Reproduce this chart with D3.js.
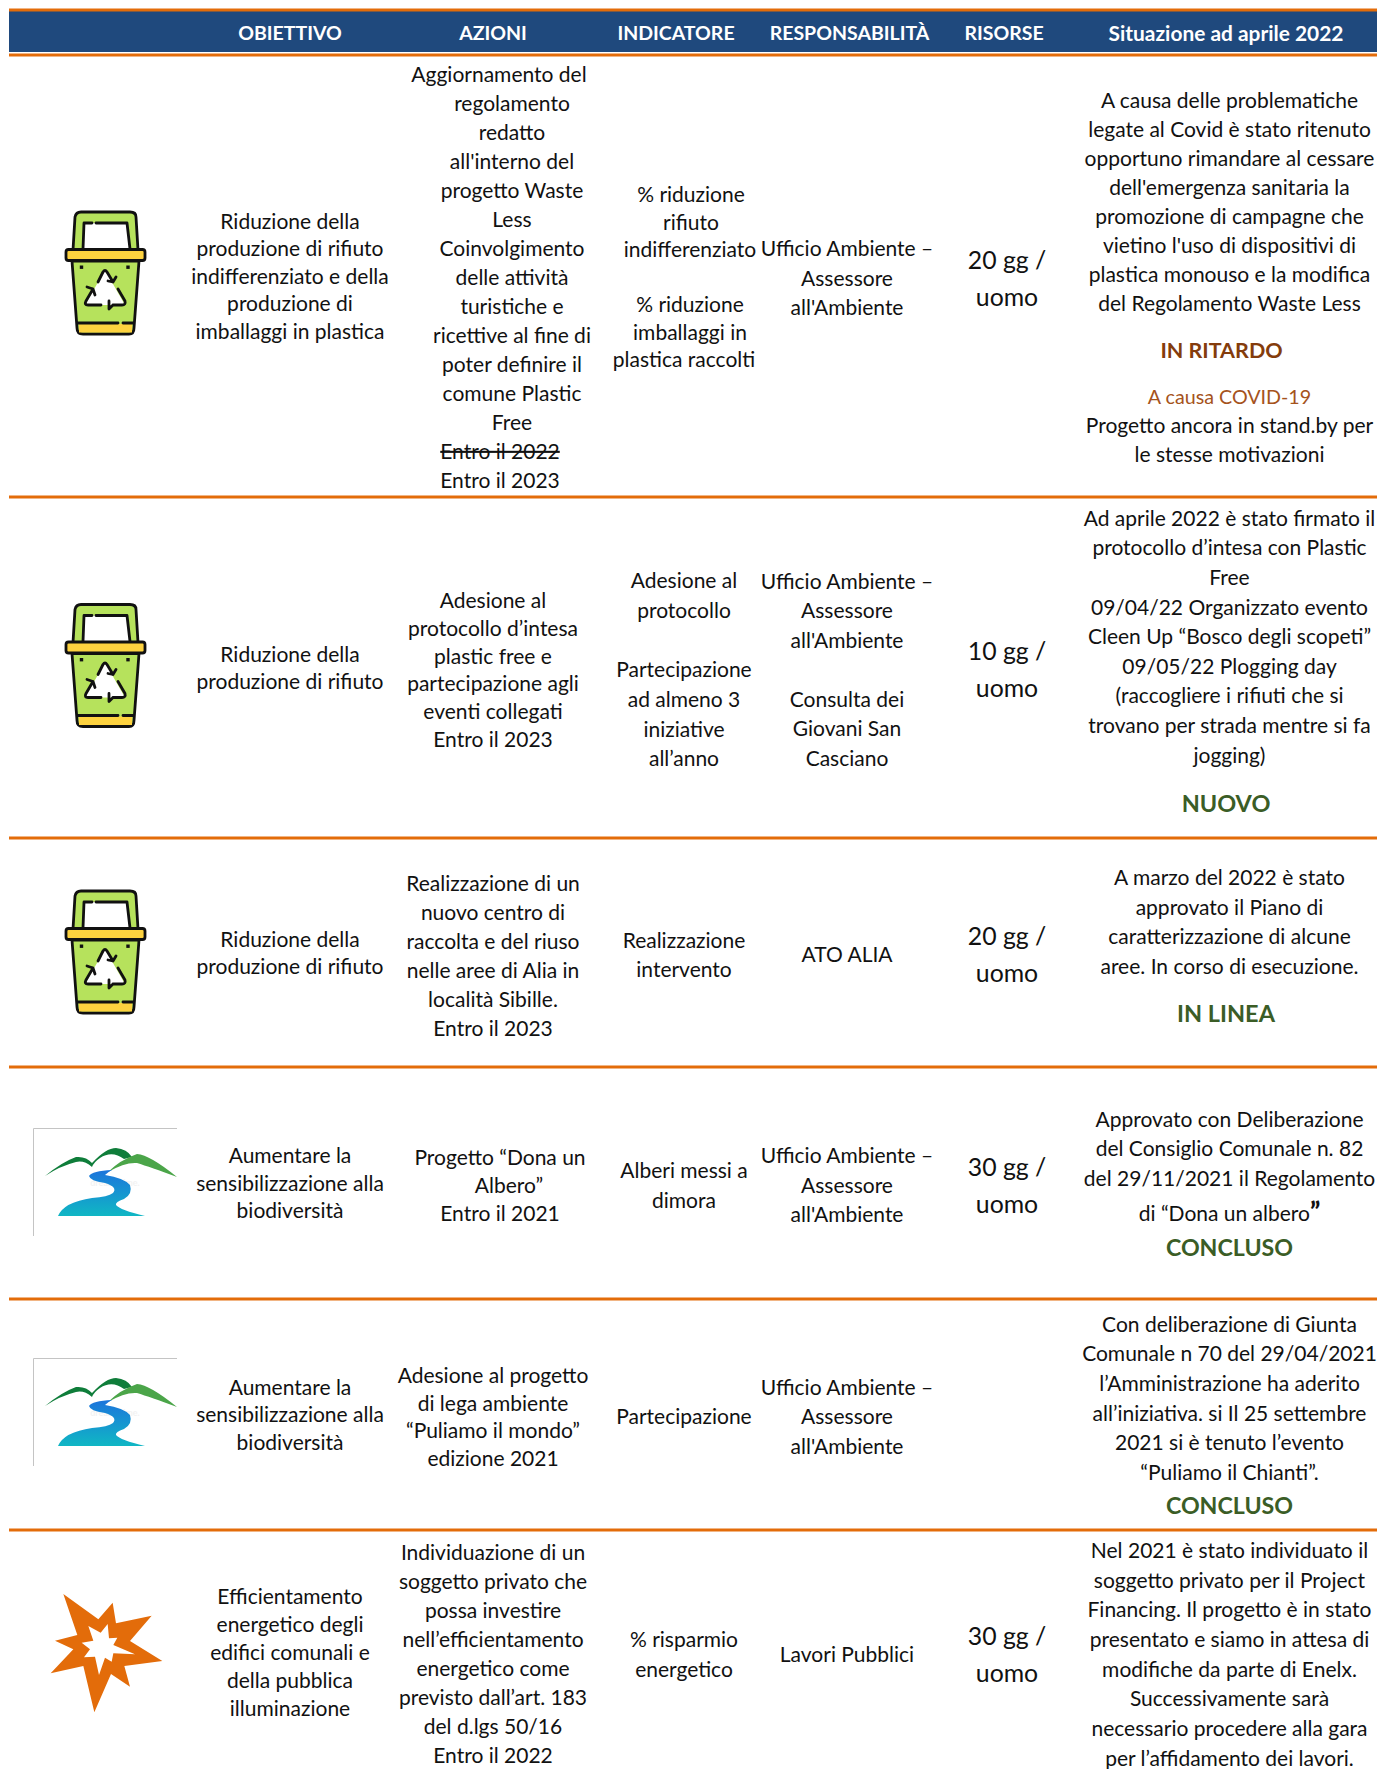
<!DOCTYPE html>
<html>
<head>
<meta charset="utf-8">
<script src="https://cdn.jsdelivr.net/npm/d3@7"></script>
<style>
  body { margin: 0; background: #fff; }
  svg { display: block; }
  text { font-family: Lato, "Open Sans", sans-serif; }
</style>
</head>
<body>
<svg></svg>
<script>
const WIDTH = 1385;
const HEIGHT = 1769;

const COLONNE = ["obiettivo", "azioni", "indicatore", "responsabilita", "risorse", "situazione"];
const INTESTAZIONI = ["OBIETTIVO", "AZIONI", "INDICATORE", "RESPONSABILITÀ", "RISORSE", "Situazione ad aprile 2022"];

const ICONE = ["bin", "bin", "bin", "logo", "logo", "star"];

const OBIETTIVI = [
    ["Riduzione della", "produzione di rifiuto", "indifferenziato e della", "produzione di", "imballaggi in plastica"],
    ["Riduzione della", "produzione di rifiuto"],
    ["Riduzione della", "produzione di rifiuto"],
    ["Aumentare la", "sensibilizzazione alla", "biodiversità"],
    ["Aumentare la", "sensibilizzazione alla", "biodiversità"],
    ["Efficientamento", "energetico degli", "edifici comunali e", "della pubblica", "illuminazione"]
];

const AZIONI = [
    ["Aggiornamento del", "regolamento", "redatto", "all'interno del", "progetto Waste", "Less", "Coinvolgimento", "delle attività", "turistiche e", "ricettive al fine di", "poter definire il", "comune Plastic", "Free", "Entro il 2022", "Entro il 2023"],
    ["Adesione al", "protocollo d’intesa", "plastic free e", "partecipazione agli", "eventi collegati", "Entro il 2023"],
    ["Realizzazione di un", "nuovo centro di", "raccolta e del riuso", "nelle aree di Alia in", "località Sibille.", "Entro il 2023"],
    ["Progetto “Dona un", "Albero”", "Entro il 2021"],
    ["Adesione al progetto", "di lega ambiente", "“Puliamo il mondo”", "edizione 2021"],
    ["Individuazione di un", "soggetto privato che", "possa investire", "nell’efficientamento", "energetico come", "previsto dall’art. 183", "del d.lgs 50/16", "Entro il 2022"]
];

const INDICATORI = [
    ["% riduzione", "rifiuto", "indifferenziato", "", "% riduzione", "imballaggi in", "plastica raccolti"],
    ["Adesione al", "protocollo", "", "Partecipazione", "ad almeno 3", "iniziative", "all’anno"],
    ["Realizzazione", "intervento"],
    ["Alberi messi a", "dimora"],
    ["Partecipazione"],
    ["% risparmio", "energetico"]
];

const RESPONSABILITA = [
    ["Ufficio Ambiente –", "Assessore", "all'Ambiente"],
    ["Ufficio Ambiente –", "Assessore", "all'Ambiente", "", "Consulta dei", "Giovani San", "Casciano"],
    ["ATO ALIA"],
    ["Ufficio Ambiente –", "Assessore", "all'Ambiente"],
    ["Ufficio Ambiente –", "Assessore", "all'Ambiente"],
    ["Lavori Pubblici"]
];

const RISORSE = [
    ["20 gg /", "uomo"],
    ["10 gg /", "uomo"],
    ["20 gg /", "uomo"],
    ["30 gg /", "uomo"],
    [],
    ["30 gg /", "uomo"]
];

const SITUAZIONE = [
    ["A causa delle problematiche", "legate al Covid è stato ritenuto", "opportuno rimandare al cessare", "dell'emergenza sanitaria la", "promozione di campagne che", "vietino l'uso di dispositivi di", "plastica monouso e la modifica", "del Regolamento Waste Less", "IN RITARDO", "A causa COVID-19", "Progetto ancora in stand.by per", "le stesse motivazioni"],
    ["Ad aprile 2022 è stato firmato il", "protocollo d’intesa con Plastic", "Free", "09/04/22 Organizzato evento", "Cleen Up “Bosco degli scopeti”", "09/05/22 Plogging day", "(raccogliere i rifiuti che si", "trovano per strada mentre si fa", "jogging)", "NUOVO"],
    ["A marzo del 2022 è stato", "approvato il Piano di", "caratterizzazione di alcune", "aree. In corso di esecuzione.", "IN LINEA"],
    ["Approvato con Deliberazione", "del Consiglio Comunale n. 82", "del 29/11/2021 il Regolamento", "di “Dona un albero”", "CONCLUSO"],
    ["Con deliberazione di Giunta", "Comunale n 70 del 29/04/2021", "l’Amministrazione ha aderito", "all’iniziativa.  si Il 25 settembre", "2021 si è tenuto l’evento", "“Puliamo il Chianti”.", "CONCLUSO"],
    ["Nel 2021 è stato individuato il", "soggetto privato per il Project", "Financing. Il progetto è in stato", "presentato e siamo in attesa di", "modifiche da parte di Enelx.", "Successivamente sarà", "necessario procedere alla gara", "per l’affidamento dei lavori."]
];

// righe della colonna situazione che non sono testo normale
const STATI = {"IN RITARDO": "#843c0c", "NUOVO": "#3b5d26", "IN LINEA": "#3b5d26", "CONCLUSO": "#3b5d26"};
const STATI_FONT = {"IN RITARDO": 21.5, "NUOVO": 23.5, "IN LINEA": 23.5, "CONCLUSO": 23.2};
const CAUSA = "A causa COVID-19";

// layout
const RULES = [9, 1377];
const HEADER = {top: 11, bottom: 52};
const ROW_EDGES = [55, 497, 838, 1067, 1299, 1530, 1774];
const HEADER_X = [290, 493, 676, 849.5, 1004, 1226];
const HEADER_FONT = [19.5, 19.5, 19.5, 19.5, 19.5, 20.9];
const COL_X = [290, 493, 684, 847, 1007, 1229.5];
const FONT = [21, 21, 21, 21, 24.8, 21];

const LEADING = [
    [27.4, 27.5, 27.5, 27.6, 27.6, 28],
    [29, 27.7, 29, 28.2, 27.7, 29],
    [27.5, 29.7, 29.5, 29.5, 29.5, 29.5],
    [29.5, 29.5, 29.5, 29.5, 29.5, 29.5],
    [36.7, 36.7, 36.7, 36.7, 36.7, 36.7]
];
const SIT_GAPS = [
    [29, 29, 29, 29, 29, 29, 29, 47, 46, 29, 29],
    [29.6, 29.6, 29.6, 29.6, 29.6, 29.6, 29.6, 29.6, 48.5],
    [29.6, 29.6, 29.6, 47.5],
    [29.8, 29.4, 34.9, 34.4],
    [29.7, 29.7, 29.7, 29.7, 29.7, 33],
    [29.7, 29.7, 29.7, 29.7, 29.7, 29.7, 29.7]
];
const SIT_NUDGE_Y = [1.7, -6.5, -6.5, 0.5, 0.5, 2.5];
const SIT_NUDGE_X = {"IN RITARDO": -8, "NUOVO": -3.5, "IN LINEA": -3.5, "CONCLUSO": 0};
const CELL_NUDGE_Y = {"1,0": -1, "1,2": 1, "2,0": -1};

// spostamenti orizzontali delle righe rientrate nell'originale
const AZIONI_SHIFT = {
    0: [6, 19, 19, 19, 19, 19, 19, 19, 19, 19, 19, 19, 19, 7, 7],
    3: [7, 16, 7]
};
const IND_SHIFT = {0: [7, 7, 6, 0, 6, 6, 0]};

const svg = d3.select("svg").attr("width", WIDTH).attr("height", HEIGHT);

const defs = svg.append("defs");
const riverGrad = defs.append("linearGradient")
    .attr("id", "river").attr("x1", 0).attr("y1", 0).attr("x2", 0).attr("y2", 1);
riverGrad.append("stop").attr("offset", "0%").attr("stop-color", "#1c74dc");
riverGrad.append("stop").attr("offset", "100%").attr("stop-color", "#10b7c4");

const rowCentre = d3.pairs(ROW_EDGES).map(([a, b]) => (a + b) / 2);
const colX = d3.scaleOrdinal(COLONNE, COL_X);
const colFont = d3.scaleOrdinal(COLONNE, FONT);
const headerX = d3.scaleOrdinal(INTESTAZIONI, HEADER_X);
const headerFont = d3.scaleOrdinal(INTESTAZIONI, HEADER_FONT);

// testata
svg.append("rect")
    .attr("x", RULES[0]).attr("y", HEADER.top)
    .attr("width", RULES[1] - RULES[0]).attr("height", HEADER.bottom - HEADER.top)
    .attr("fill", "#1f497d");

svg.selectAll("line.rule")
    .data([HEADER.top - 1].concat(ROW_EDGES.slice(0, 6)))
    .join("line")
    .attr("class", "rule")
    .attr("x1", RULES[0]).attr("x2", RULES[1])
    .attr("y1", d => d).attr("y2", d => d)
    .attr("stroke", "#e36c0a")
    .attr("stroke-width", 3);

svg.selectAll("text.head")
    .data(INTESTAZIONI)
    .join("text")
    .attr("class", "head")
    .attr("x", d => headerX(d))
    .attr("y", 33.5)
    .attr("dy", "0.35em")
    .attr("text-anchor", "middle")
    .attr("fill", "#fff")
    .style("font-weight", 700)
    .style("font-size", d => headerFont(d) + "px")
    .text(d => d);

function drawCell(col, row, lines, gaps, nudgeY, shifts) {
    if (!lines.length) return;
    const tops = d3.cumsum([0].concat(gaps));
    const mid = (tops[0] + tops[tops.length - 1]) / 2;
    const g = svg.append("g").attr("class", col);

    const t = g.selectAll("text")
        .data(lines)
        .join("text")
        .attr("x", (d, i) => colX(col) + (shifts ? shifts[i] : 0))
        .attr("y", (d, i) => rowCentre[row] + nudgeY + tops[i] - mid)
        .attr("dy", "0.35em")
        .attr("text-anchor", "middle")
        .attr("fill", "#111")
        .style("font-size", colFont(col) + "px")
        .text(d => d);

    t.filter(d => d == "Entro il 2022" && col == "azioni" && row == 0)
        .style("text-decoration", "line-through");
    return t;
}

COLONNE.slice(0, 5).forEach((col, c) => {
    const cells = [OBIETTIVI, AZIONI, INDICATORI, RESPONSABILITA, RISORSE][c];
    cells.forEach((lines, r) => {
        const gaps = lines.slice(1).map(() => LEADING[c][r]);
        const shifts = c == 1 ? AZIONI_SHIFT[r] : c == 2 ? IND_SHIFT[r] : null;
        const nudge = (c == 0 ? 0.5 : 2.5) + (CELL_NUDGE_Y[c + "," + r] || 0);
        drawCell(col, r, lines, gaps, nudge, shifts);
    });
});

SITUAZIONE.forEach((lines, r) => {
    const t = drawCell("situazione", r, lines, SIT_GAPS[r], SIT_NUDGE_Y[r], lines.map(d => SIT_NUDGE_X[d] || 0));
    t.filter(d => STATI[d])
        .attr("fill", d => STATI[d])
        .style("font-weight", 700)
        .style("font-size", d => STATI_FONT[d] + "px");
    t.filter(d => d == CAUSA)
        .attr("fill", "#a5531c")
        .style("font-size", "19.7px");
    // virgolette finali in grassetto
    t.filter(d => d.endsWith("albero”"))
        .text(d => d.slice(0, -1))
        .append("tspan")
        .style("font-weight", 900)
        .style("font-size", "26px")
        .text("”");
});

// icone
function drawBin(g) {
    const line = (d, fill) => g.append("path").attr("d", d)
        .attr("fill", fill || "none").attr("stroke", "#111").attr("stroke-width", 2.8)
        .attr("stroke-linejoin", "round").attr("stroke-linecap", "round");
    // coperchio
    line("M43 60 L45 27 Q46 22 51 22 L100 22 Q106 22 106 27 L108 60 Z", "#b6e25c");
    g.append("path").attr("d", "M53 59 L54 33 L97 33 L100 59 Z").attr("fill", "#fff");
    line("M62 33 L54 33 L53 59");
    line("M66 33 L97 33 L100 59");
    // corpo
    line("M42 71 L47 138 Q47 144 53 144 L99 144 Q104 144 104 138 L109 71 Z", "#b6e25c");
    g.append("rect").attr("x", 49).attr("y", 134).attr("width", 53).attr("height", 8.5).attr("fill", "#fdd23f");
    line("M48 133 L88 133 M93 133 L103 133");
    // bordo
    g.append("rect").attr("x", 36).attr("y", 59.5).attr("width", 79).attr("height", 11).attr("rx", 2.5)
        .attr("fill", "#fdd23f").attr("stroke", "#111").attr("stroke-width", 2.8);
    g.selectAll("rect.dot").data([51.5, 98]).join("rect").attr("class", "dot")
        .attr("x", d => d - 1.7).attr("y", 75.5).attr("width", 3.4).attr("height", 3.4).attr("fill", "#111");
    // triangolo di riciclo
    g.append("path").attr("d", "M75 80 L95 115 L55 115 Z").attr("fill", "#fff");
    line("M68 92 L73 82 Q75 79 77 82 L83 92 M86 87 L83 92 L78 91");
    line("M88 99 L95 111 Q96 115 92 115 L83 115 M79 111 L79 119 L83 115");
    line("M71 115 L58 115 Q54 115 56 111 L63 99 M57 97 L63 99 L65 105");
}

function drawLogo(g) {
    g.append("path").attr("d", "M13.5 126 L13.5 18.5 L157 18.5")
        .attr("fill", "none").attr("stroke", "#c4c4c4").attr("stroke-width", 1);
    g.append("text").attr("x", 95).attr("y", 76).attr("text-anchor", "middle")
        .attr("fill", "#f2f2f2").style("font-size", "9px").style("font-weight", 700).text("dreamstime.");
    g.append("path").attr("d", "M25 66 Q42 52 56 47 Q66 46 72 53 Q86 38 96 38 Q107 39 112 47 L104 49 Q92 40 80 48 Q74 52 72 57 Q64 50 56 52 Q40 56 25 66 Z")
        .attr("fill", "#0f7d3a");
    g.append("path").attr("d", "M88 62 Q100 50 117 44 Q130 45 157 67 Q130 57 117 53 Q105 52 88 62 Z")
        .attr("fill", "#4ba549");
    g.append("path").attr("d", "M92 60 Q72 61 69 66 Q70 71 85 73 Q98 77 93 83 Q88 87 72 88 Q44 92 38 106 L125 106 Q100 100 96 95 Q95 92 104 89 Q113 84 110 75 Q104 68 85 65 Q88 62 92 60 Z")
        .attr("fill", "url(#river)");
}

function drawStar(g) {
    const outer = [[100,72],[205,148],[248,98],[258,160],[365,137],[300,213],[397,273],[283,288],[300,350],[243,312],[193,427],[160,288],[62,310],[130,238],[75,212],[142,195]];
    const inner = [[175,168],[212,188],[233,162],[237,205],[262,203],[250,225],[315,253],[250,250],[245,275],[225,263],[207,315],[195,260],[162,262],[180,238],[155,218],[190,212]];
    const toPath = pts => d3.line()(pts.map(p => [p[0] / 3, p[1] / 3])) + "Z";
    g.append("path").attr("d", toPath(outer) + toPath(inner))
        .attr("fill", "#e36c0a").attr("fill-rule", "evenodd");
}

// origine di ogni icona nella pagina
const ICON_POS = {
    0: [30, 190], 1: [30, 582.5], 2: [30, 869],
    3: [20, 1110], 4: [20, 1340], 5: [30, 1570]
};
const DRAW = {bin: drawBin, logo: drawLogo, star: drawStar};

ICONE.forEach((name, r) => {
    const g = svg.append("g").attr("class", "icon-" + name)
        .attr("transform", `translate(${ICON_POS[r][0]},${ICON_POS[r][1]})`);
    DRAW[name](g);
});
</script>
</body>
</html>
